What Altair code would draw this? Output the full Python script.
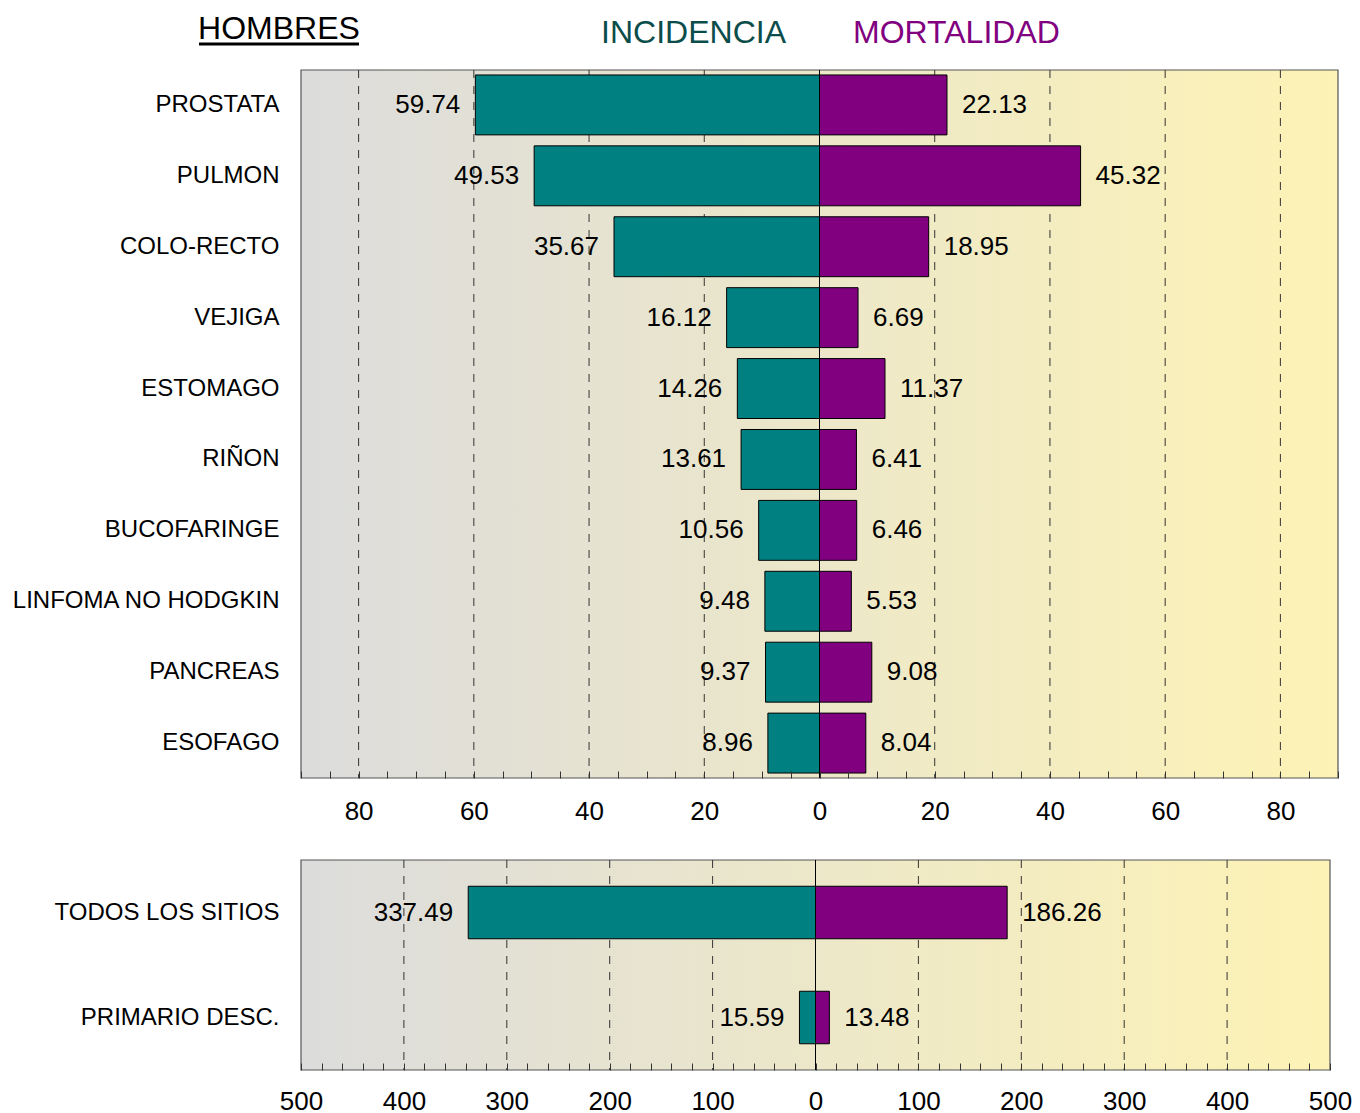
import altair as alt
import pandas as pd

# ---------------- data ----------------
categories = ["PROSTATA", "PULMON", "COLO-RECTO", "VEJIGA", "ESTOMAGO", "RIÑON",
              "BUCOFARINGE", "LINFOMA NO HODGKIN", "PANCREAS", "ESOFAGO"]
incidence = [59.74, 49.53, 35.67, 16.12, 14.26, 13.61, 10.56, 9.48, 9.37, 8.96]
mortality = [22.13, 45.32, 18.95, 6.69, 11.37, 6.41, 6.46, 5.53, 9.08, 8.04]

total_categories = ["TODOS LOS SITIOS", "PRIMARIO DESC."]
total_incidence = [337.49, 15.59]
total_mortality = [186.26, 13.48]

top_domain = [-90, 90]
top_ticks = list(range(-90, 91, 5))
top_grid = [-80, -60, -40, -20, 20, 40, 60, 80]

bottom_domain = [-500, 500]
bottom_ticks = list(range(-500, 501, 20))
bottom_grid = [-400, -300, -200, -100, 100, 200, 300, 400]

header_left = "HOMBRES"
header_inc = "INCIDENCIA"
header_mort = "MORTALIDAD"

# ---------------- style ----------------
TEAL = "#008080"
PURPLE = "#800080"
TITLE_TEAL = "#0b4d4a"
FONT = "Liberation Sans"

bg_gradient = alt.LinearGradient(
    gradient="linear",
    stops=[alt.GradientStop(color="#dcdcdc", offset=0),
           alt.GradientStop(color="#fdf3b6", offset=1)],
    x1=0, x2=1, y1=0, y2=0,
)


def panel(cats, inc, mort, domain, ticks, label_step, grid, width, height,
          pad_inner, pad_outer, label_pad, headers=False):
    n = len(cats)
    bars = pd.DataFrame({
        "cat": cats * 2,
        "kind": ["INCIDENCIA"] * n + ["MORTALIDAD"] * n,
        "value": inc + mort,
        "signed": [-v for v in inc] + mort,
    })
    left = bars[bars["kind"] == "INCIDENCIA"]
    right = bars[bars["kind"] == "MORTALIDAD"]

    x_scale = alt.Scale(domain=domain, nice=False, zero=False)
    x_axis = alt.Axis(
        values=ticks,
        labelExpr=f"datum.value % {label_step} == 0 ? '' + abs(datum.value) : ''",
        title=None, grid=False, domain=False,
        offset=-7, tickSize=7, tickColor="#333333", tickWidth=1,
        labelPadding=label_pad, labelFont=FONT, labelFontSize=26, labelColor="black",
        labelFlush=False, labelOverlap=False, zindex=1,
    )
    y_scale = alt.Scale(domain=cats, paddingInner=pad_inner, paddingOuter=pad_outer)
    y_axis = alt.Axis(title=None, ticks=False, domain=False, labelPadding=22,
                      labelFont=FONT, labelFontSize=24, labelColor="black",
                      labelLimit=400)

    bg = alt.Chart(pd.DataFrame({"a": [0]})).mark_rect(
        fill=bg_gradient, stroke="#555555", strokeWidth=1.2
    ).encode(
        x=alt.XDatum(domain[0], type="quantitative", scale=x_scale, axis=x_axis),
        x2=alt.X2Datum(domain[1]),
        y=alt.value(0), y2=alt.value(height),
    )

    grid_rules = alt.Chart(pd.DataFrame({"g": grid})).mark_rule(
        color="#333333", strokeWidth=1, strokeDash=[8, 8]
    ).encode(x=alt.X("g:Q", scale=x_scale, axis=x_axis))

    zero = alt.Chart(pd.DataFrame({"a": [0]})).mark_rule(
        color="black", strokeWidth=1
    ).encode(x=alt.XDatum(0, type="quantitative", scale=x_scale, axis=x_axis))

    bar = alt.Chart(bars).mark_bar(stroke="black", strokeWidth=1).encode(
        x=alt.X("signed:Q", scale=x_scale, axis=x_axis),
        x2=alt.X2Datum(0),
        y=alt.Y("cat:N", scale=y_scale, axis=y_axis, sort=cats),
        color=alt.Color("kind:N", scale=alt.Scale(domain=["INCIDENCIA", "MORTALIDAD"],
                                                  range=[TEAL, PURPLE]), legend=None),
    )

    txt_left = alt.Chart(left).mark_text(
        align="right", baseline="middle", dx=-15, font=FONT, fontSize=26, color="black"
    ).encode(
        x=alt.X("signed:Q", scale=x_scale, axis=x_axis),
        y=alt.Y("cat:N", scale=y_scale, axis=y_axis, sort=cats),
        text=alt.Text("value:Q", format=".2f"),
    )
    txt_right = alt.Chart(right).mark_text(
        align="left", baseline="middle", dx=15, font=FONT, fontSize=26, color="black"
    ).encode(
        x=alt.X("signed:Q", scale=x_scale, axis=x_axis),
        y=alt.Y("cat:N", scale=y_scale, axis=y_axis, sort=cats),
        text=alt.Text("value:Q", format=".2f"),
    )

    layers = [bg, grid_rules, zero, bar, txt_left, txt_right]

    if headers:
        h1 = alt.Chart(pd.DataFrame({"t": [header_left]})).mark_text(
            align="center", baseline="alphabetic", font=FONT, fontSize=32, color="black"
        ).encode(x=alt.value(-22), y=alt.value(-31), text="t:N")
        ul = alt.Chart(pd.DataFrame({"a": [0]})).mark_rule(
            color="black", strokeWidth=3
        ).encode(x=alt.value(-102), x2=alt.value(58), y=alt.value(-26))
        h2 = alt.Chart(pd.DataFrame({"t": [header_inc]})).mark_text(
            align="right", baseline="alphabetic", font=FONT, fontSize=32, color=TITLE_TEAL
        ).encode(x=alt.value(485), y=alt.value(-27), text="t:N")
        h3 = alt.Chart(pd.DataFrame({"t": [header_mort]})).mark_text(
            align="left", baseline="alphabetic", font=FONT, fontSize=32, color=PURPLE
        ).encode(x=alt.value(552), y=alt.value(-27), text="t:N")
        layers += [h1, ul, h2, h3]

    return alt.layer(*layers).properties(width=width, height=height)


top = panel(categories, incidence, mortality, top_domain, top_ticks, 20, top_grid,
            1037, 708, 0.155, 0.07, 20, headers=True)
bottom = panel(total_categories, total_incidence, total_mortality, bottom_domain,
               bottom_ticks, 100, bottom_grid, 1029, 210, 0.5, 0.25, 18)

chart = alt.vconcat(top, bottom, spacing=82, bounds="flush").properties(
    padding={"left": 2, "top": 5, "right": 0, "bottom": 0}
).configure_view(stroke=None)

chart.save("out.html", embed_options={"renderer": "svg", "actions": False})
